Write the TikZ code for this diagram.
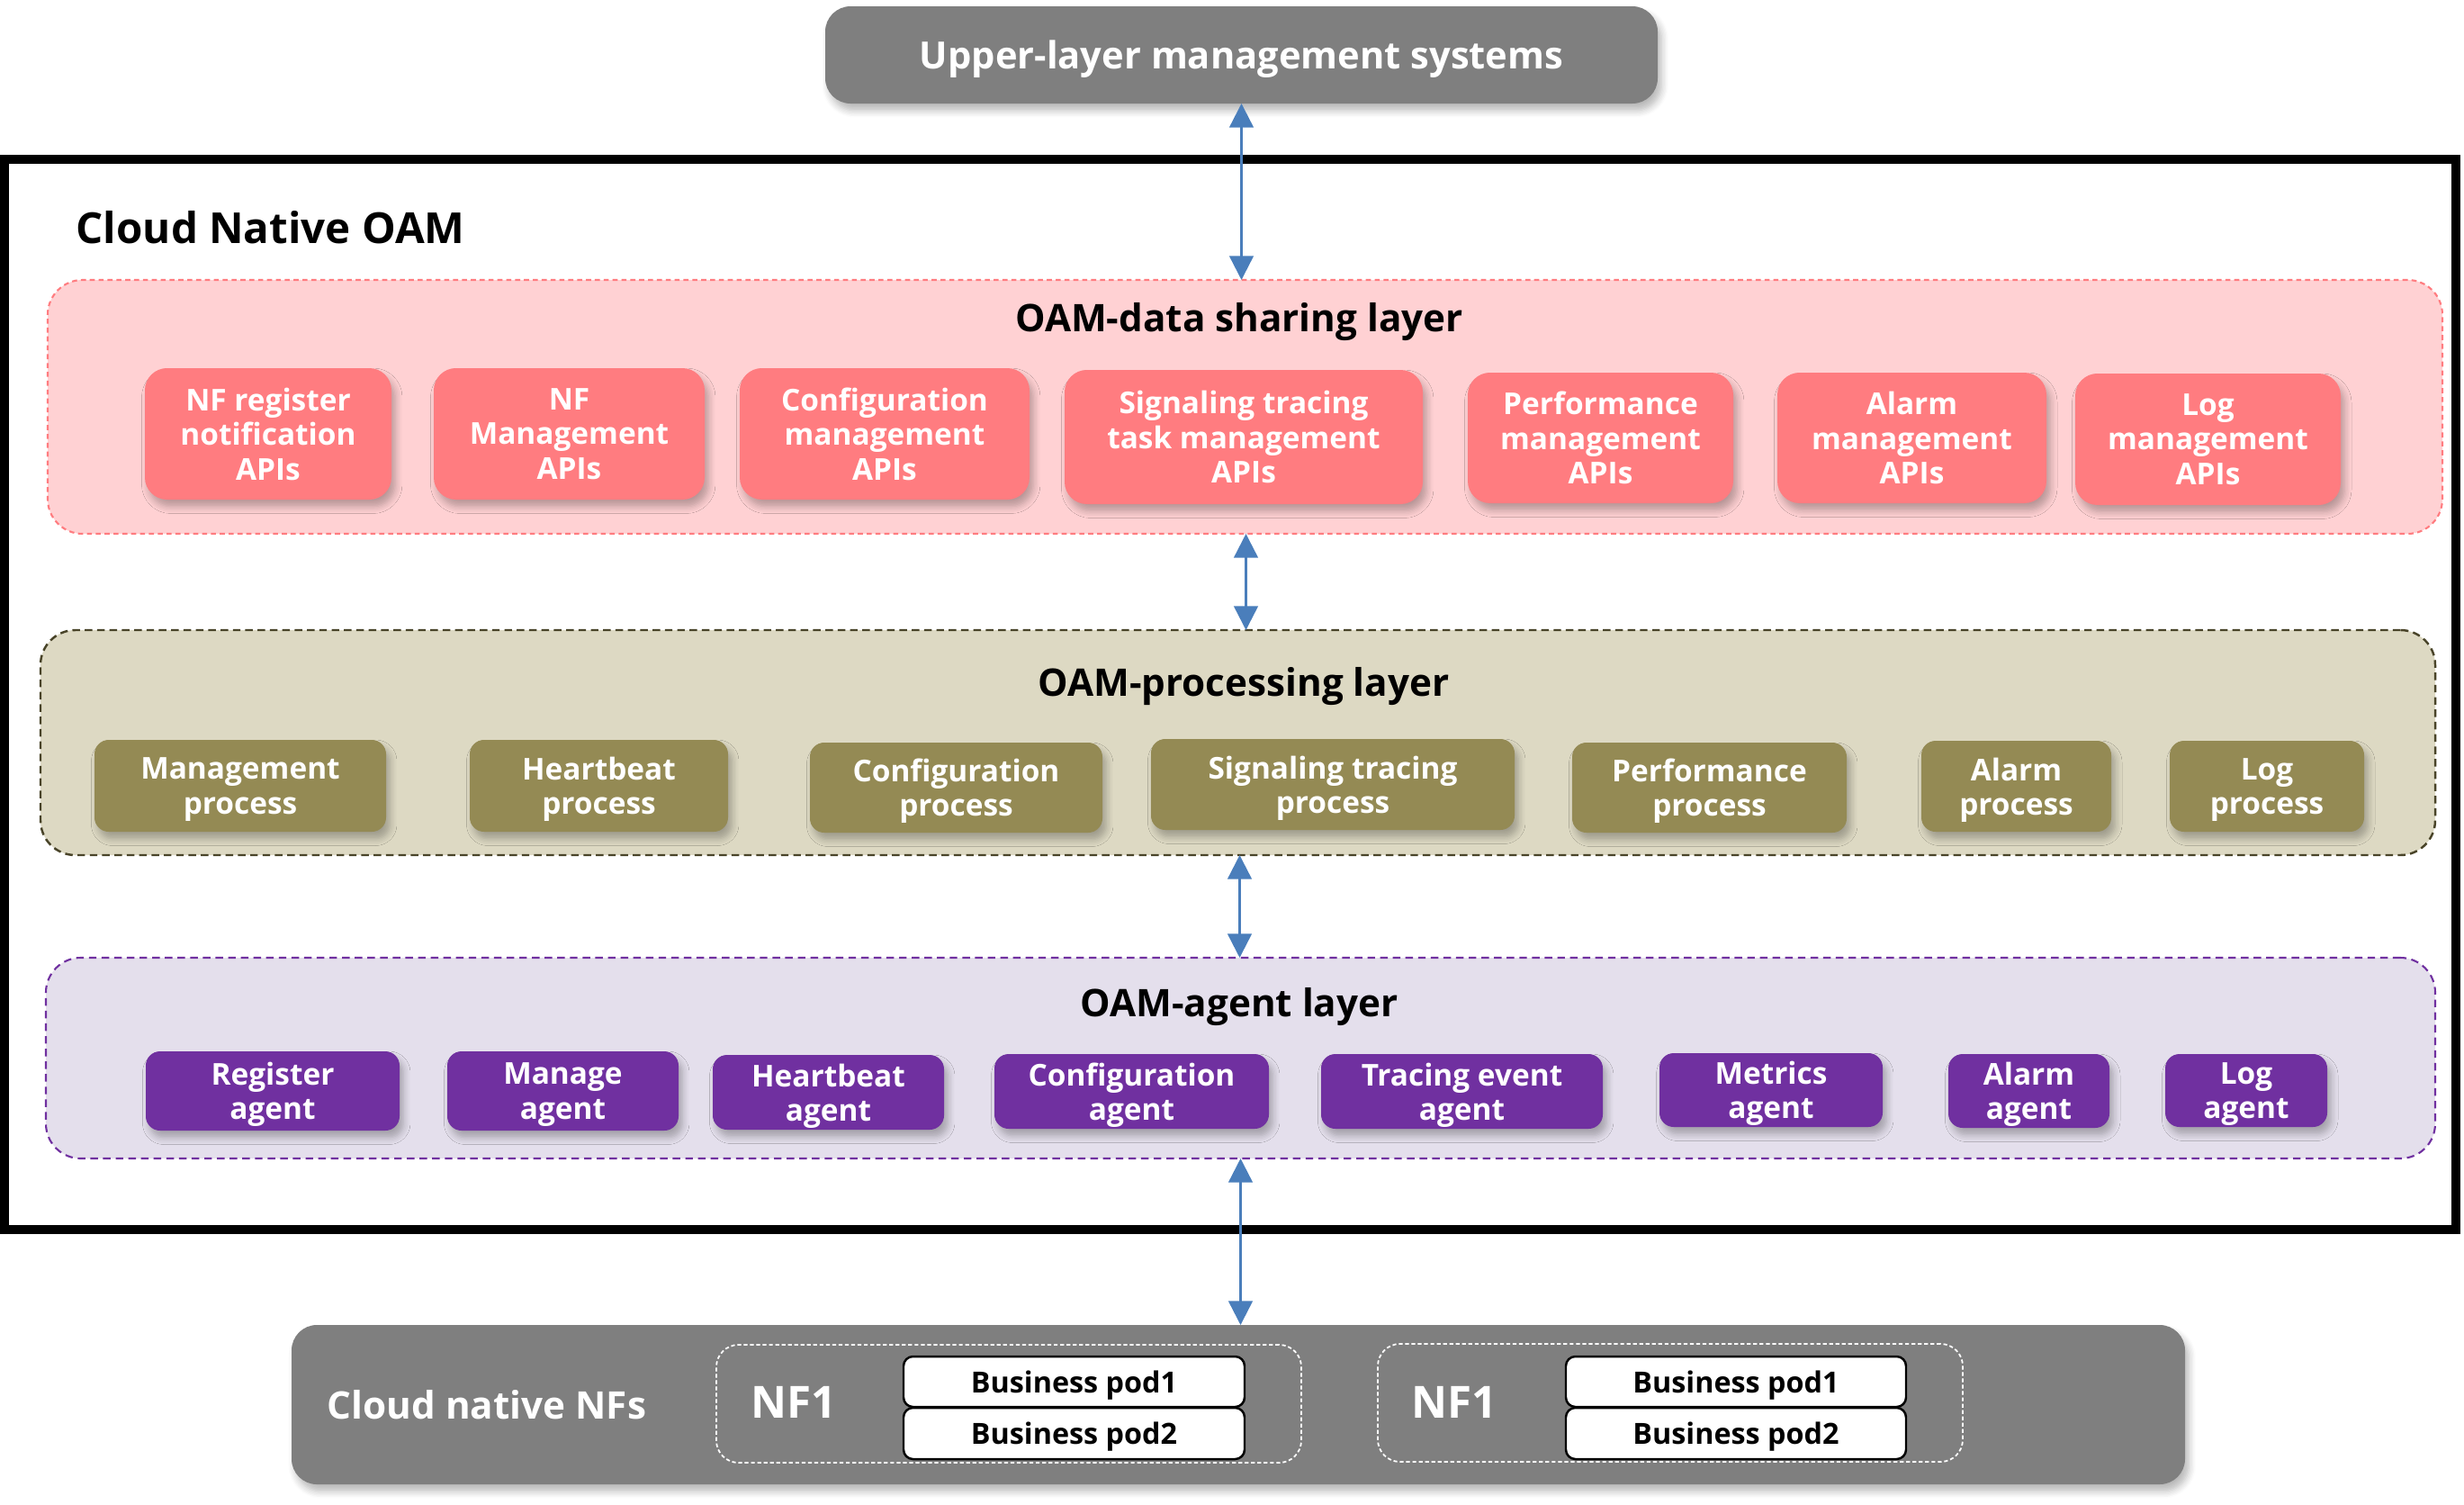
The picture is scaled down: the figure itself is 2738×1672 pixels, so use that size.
\documentclass[tikz,border=0pt]{standalone}
\usepackage{fontspec}
\setmainfont{Open Sans}
\usetikzlibrary{arrows.meta,shadows.blur}
\definecolor{upgray}{HTML}{7F7F7F}
\definecolor{pinkfill}{HTML}{FFD1D3}
\definecolor{pinkbox}{HTML}{FF7C80}
\definecolor{tanfill}{HTML}{DDD9C3}
\definecolor{olivebox}{HTML}{948A54}
\definecolor{tanborder}{HTML}{494429}
\definecolor{lavfill}{HTML}{E4DFEC}
\definecolor{purp}{HTML}{7030A0}
\definecolor{arrowblue}{HTML}{4A7EBB}
\newcommand{\bx}[7]{\node[#6, minimum width={(#4-#2)*0.01cm}, minimum height={(#5-#3)*0.01cm}] (#1) at ({(#2+#4)/2},{(#3+#5)/2}) {#7};}
\tikzset{
  base/.style={rectangle, inner sep=0pt, outer sep=0pt, align=center, text depth=0pt, font=\bfseries\fontsize{9.5}{10.9}\selectfont},
  shad/.style={blur shadow={shadow xshift=1.2pt, shadow yshift=-2.2pt, shadow opacity=28, shadow blur steps=6, shadow blur radius=2.2pt}},
  apibox/.style={base, shad, fill=pinkbox, text=white, rounded corners=7pt},
  procbox/.style={base, shad, fill=olivebox, text=white, rounded corners=4.5pt},
  agentbox/.style={base, shad, fill=purp, text=white, rounded corners=4.5pt},
  graybox/.style={base, shad, fill=upgray, rounded corners=8pt},
  datalayer/.style={base, fill=pinkfill, draw=pinkbox, line width=0.6pt, dash pattern=on 1.6pt off 1.2pt, rounded corners=11pt},
  proclayer/.style={base, fill=tanfill, draw=tanborder, line width=0.7pt, dash pattern=on 2.4pt off 1.5pt, rounded corners=11pt},
  agentlayer/.style={base, fill=lavfill, draw=purp, line width=0.6pt, dash pattern=on 2.4pt off 1.6pt, rounded corners=11pt},
  frame/.style={rectangle, inner sep=0pt, outer sep=0pt, draw=black, line width=2.85pt},
  nfgroup/.style={base, draw=white, line width=0.5pt, dash pattern=on 1.2pt off 0.8pt, rounded corners=7pt},
  podbox/.style={base, fill=white, draw=black, line width=0.7pt, rounded corners=3pt, font=\bfseries\fontsize{9.2}{10}\selectfont},
  layertitle/.style={inner sep=0pt, font=\bfseries\fontsize{12}{14}\selectfont},
  biarrow/.style={draw=arrowblue, line width=0.7pt, {Triangle[width=7.6pt,length=7.6pt]}-{Triangle[width=7.6pt,length=7.6pt]}}
}
\begin{document}
\begin{tikzpicture}[x=0.01cm, y=-0.01cm]
\useasboundingbox (0,0) rectangle (2738,1672);
% upper-layer box
\bx{upper}{917}{7}{1842}{115}{graybox, text=white, font=\bfseries\fontsize{11.85}{14}\selectfont}{Upper-layer management systems}
% OAM frame
\bx{oam}{5}{177}{2729}{1366}{frame}{}
\node[anchor=west, inner sep=0pt, font=\bfseries\fontsize{13.5}{16}\selectfont] (oamtitle) at (84,253) {Cloud Native OAM};
% data sharing layer
\bx{dsl}{53}{311}{2714}{593}{datalayer}{}
\node[layertitle] (dsltitle) at (1377,358) {OAM-data sharing layer};
\bx{a1}{161}{409}{435}{555}{apibox}{NF register\\notification\\APIs}
\bx{a2}{482}{409}{783}{555}{apibox}{NF\\Management\\APIs}
\bx{a3}{822}{409}{1144}{555}{apibox}{Configuration\\management\\APIs}
\bx{a4}{1183}{411}{1581}{560}{apibox}{Signaling tracing\\task management\\APIs}
\bx{a5}{1631}{414}{1926}{559}{apibox}{Performance\\management\\APIs}
\bx{a6}{1975}{414}{2274}{559}{apibox}{Alarm\\management\\APIs}
\bx{a7}{2306}{415}{2601}{561}{apibox}{Log\\management\\APIs}
% processing layer
\bx{proc}{45}{700}{2706}{950}{proclayer}{}
\node[layertitle] (proctitle) at (1382,763) {OAM-processing layer};
\bx{p1}{105}{822}{429}{924}{procbox}{Management\\process}
\bx{p2}{522}{822}{809}{924}{procbox}{Heartbeat\\process}
\bx{p3}{900}{825}{1225}{925}{procbox}{Configuration\\process}
\bx{p4}{1279}{821}{1683}{922}{procbox}{Signaling tracing\\process}
\bx{p5}{1747}{825}{2052}{925}{procbox}{Performance\\process}
\bx{p6}{2135}{823}{2346}{924}{procbox}{Alarm\\process}
\bx{p7}{2411}{823}{2627}{924}{procbox}{Log\\process}
% agent layer
\bx{agent}{51}{1064}{2706}{1287}{agentlayer}{}
\node[layertitle] (agenttitle) at (1377,1119) {OAM-agent layer};
\bx{g1}{162}{1168}{444}{1256}{agentbox}{Register\\agent}
\bx{g2}{497}{1168}{754}{1256}{agentbox}{Manage\\agent}
\bx{g3}{792}{1172}{1049}{1255}{agentbox}{Heartbeat\\agent}
\bx{g4}{1105}{1171}{1410}{1254}{agentbox}{Configuration\\agent}
\bx{g5}{1468}{1171}{1781}{1254}{agentbox}{Tracing event\\agent}
\bx{g6}{1844}{1170}{2092}{1252}{agentbox}{Metrics\\agent}
\bx{g7}{2165}{1171}{2344}{1253}{agentbox}{Alarm\\agent}
\bx{g8}{2406}{1171}{2586}{1252}{agentbox}{Log\\agent}
% cloud native NFs
\bx{nfs}{324}{1472}{2428}{1649}{graybox}{}
\node[inner sep=0pt, text=white, font=\bfseries\fontsize{12}{14}\selectfont] (nfstitle) at (541,1561) {Cloud native NFs};
\bx{grp1}{796}{1494}{1446}{1625}{nfgroup}{}
\bx{grp2}{1531}{1493}{2181}{1624}{nfgroup}{}
\node[inner sep=0pt, text=white, font=\bfseries\fontsize{14}{16}\selectfont] (nf1a) at (882,1558) {NF1};
\node[inner sep=0pt, text=white, font=\bfseries\fontsize{14}{16}\selectfont] (nf1b) at (1616,1558) {NF1};
\bx{pod11}{1004}{1507}{1383}{1563}{podbox}{Business pod1}
\bx{pod12}{1004}{1564}{1383}{1621}{podbox}{Business pod2}
\bx{pod21}{1740}{1507}{2118}{1563}{podbox}{Business pod1}
\bx{pod22}{1740}{1564}{2118}{1621}{podbox}{Business pod2}
% arrows
\draw[biarrow] (upper.south) -- (upper.south |- dsl.north);
\draw[biarrow] ([xshift=0.01cm]dsl.south) -- ([xshift=0.01cm]dsl.south |- proc.north);
\draw[biarrow] ([xshift=0.02cm]proc.south) -- ([xshift=0.02cm]proc.south |- agent.north);
\draw[biarrow] (agent.south) -- (agent.south |- nfs.north);
\end{tikzpicture}
\end{document}
